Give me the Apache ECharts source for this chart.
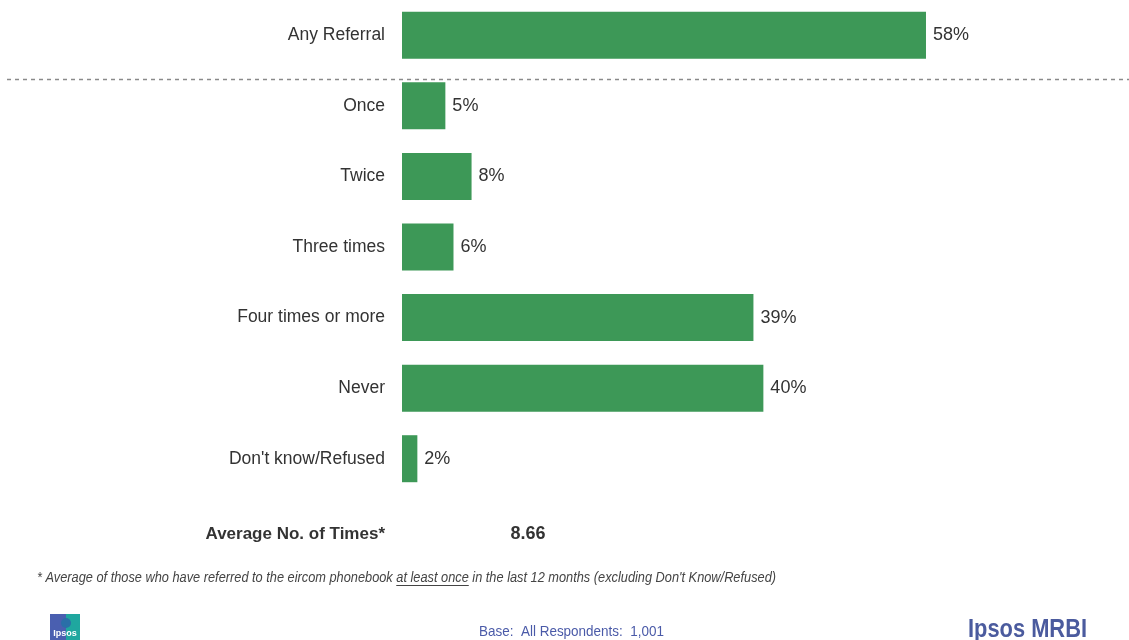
<!DOCTYPE html>
<html>
<head>
<meta charset="utf-8">
<script src="https://cdn.jsdelivr.net/npm/echarts@6/dist/echarts.min.js"></script>
<style>html,body{margin:0;padding:0;background:#fff;}#c{width:1129px;height:640px;}</style>
</head>
<body>
<div id="c"></div>
<script>
const categories = ['Any Referral', 'Once', 'Twice', 'Three times', 'Four times or more', 'Never', "Don't know/Refused"];
const values = [58, 4.8, 7.7, 5.7, 38.9, 40, 1.7];
const averageLabel = 'Average No. of Times*';
const averageValue = '8.66';
const footPre = '* Average of those who have referred to the eircom phonebook ';
const footUnder = 'at least once';
const footPost = " in the last 12 months (excluding Don't Know/Refused)";
const baseText = 'Base:  All Respondents:  1,001';
const brandText = 'Ipsos MRBI';

const sans = '"Liberation Sans", Arial, sans-serif';
const footFont = 'italic 14px ' + sans;
const cv = document.createElement('canvas').getContext('2d');
cv.font = footFont;
const wPre = cv.measureText(footPre).width;
const wUnder = cv.measureText(footUnder).width;
const wAll = cv.measureText(footPre + footUnder + footPost).width;
const footX = 37, footY = 578;
const footScale = 739 / wAll;

cv.font = '15px ' + sans;
const baseScale = 185 / cv.measureText(baseText).width;
cv.font = 'bold 26px ' + sans;
const brandScale = 119 / cv.measureText(brandText).width;

const chart = echarts.init(document.getElementById('c'), null, {renderer: 'canvas'});
chart.setOption({
  animation: false,
  grid: {left: 402, top: -2, height: 496, width: 632.4, containLabel: false},
  xAxis: {type: 'value', min: 0, max: 70, show: false},
  yAxis: {
    type: 'category', data: categories, inverse: true,
    axisLine: {show: false}, axisTick: {show: false},
    axisLabel: {color: '#333333', fontSize: 17.5, fontFamily: sans, margin: 17}
  },
  series: [{
    type: 'bar', data: values, barWidth: 47,
    itemStyle: {color: '#3d9857'},
    label: {show: true, position: 'right', distance: 7,
      formatter: p => Math.round(p.value) + '%',
      color: '#333333', fontSize: 18, fontFamily: sans}
  }],
  graphic: [
    {type: 'line', shape: {x1: 7, y1: 79.5, x2: 1129, y2: 79.5}, style: {stroke: '#8a8a8a', lineWidth: 1.5, lineDash: [4, 4]}},
    {type: 'text', x: 385, y: 534, style: {text: averageLabel, fill: '#333333', font: 'bold 17px ' + sans, align: 'right', verticalAlign: 'middle'}},
    {type: 'text', x: 528, y: 534, style: {text: averageValue, fill: '#333333', font: 'bold 18px ' + sans, align: 'center', verticalAlign: 'middle'}},
    {type: 'text', x: footX, y: footY, scaleX: footScale, style: {text: footPre + footUnder + footPost, fill: '#444444', font: footFont, align: 'left', verticalAlign: 'middle'}},
    {type: 'line', shape: {x1: footX + wPre * footScale, y1: footY + 7.5, x2: footX + (wPre + wUnder) * footScale, y2: footY + 7.5}, style: {stroke: '#444444', lineWidth: 1}},
    {type: 'text', x: 479, y: 632, scaleX: baseScale, style: {text: baseText, fill: '#4a5aa8', font: '15px ' + sans, align: 'left', verticalAlign: 'middle'}},
    {type: 'text', x: 968, y: 630, scaleX: brandScale, style: {text: brandText, fill: '#4b5b9e', font: 'bold 26px ' + sans, align: 'left', verticalAlign: 'middle'}},
    {type: 'rect', shape: {x: 50, y: 614, width: 16, height: 26}, style: {fill: '#4a5fb0'}},
    {type: 'rect', shape: {x: 66, y: 614, width: 14, height: 26}, style: {fill: '#1fa79f'}},
    {type: 'circle', shape: {cx: 66, cy: 623, r: 5}, style: {fill: '#2a6fa8'}},
    {type: 'text', x: 65, y: 634, style: {text: 'Ipsos', fill: '#ffffff', font: 'bold 9px ' + sans, align: 'center', verticalAlign: 'middle'}}
  ]
});
</script>
</body>
</html>
